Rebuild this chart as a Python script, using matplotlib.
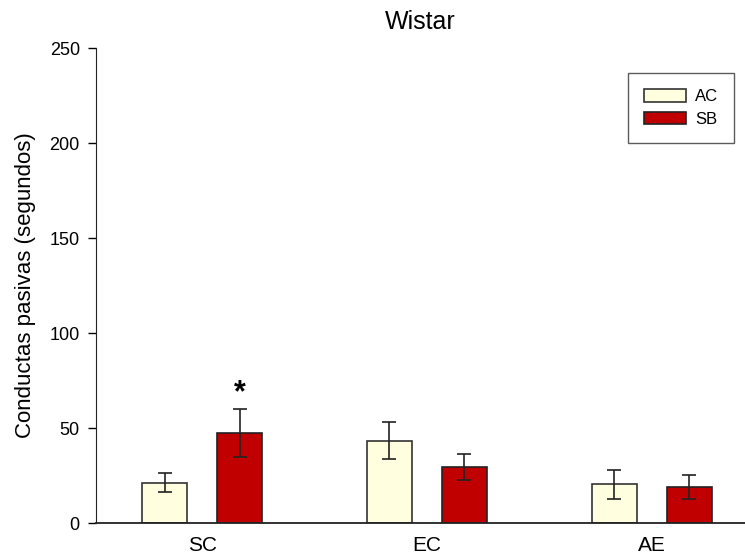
import numpy as np
import matplotlib
matplotlib.use("Agg")
import matplotlib.pyplot as plt

plt.rcParams['font.family'] = ['Liberation Sans', 'DejaVu Sans']

GROUPS = ["SC", "EC", "AE"]
AC_MEAN = [21.2, 43.3, 20.5]
AC_ERR = [5.0, 9.7, 7.6]
SB_MEAN = [47.4, 29.6, 18.8]
SB_ERR = [12.5, 6.9, 6.3]
YTICKS = [0, 50, 100, 150, 200, 250]

fig = plt.figure(figsize=(7.45, 5.57), dpi=100)
ax = fig.add_axes([0.1295, 0.061, 0.8705, 0.8528])

x = np.arange(len(GROUPS))
w = 0.2
off = 0.1667
err_kw = dict(ecolor="#222222", elinewidth=1.2, capsize=5, capthick=1.2)

ax.bar(x - off, AC_MEAN, w, yerr=AC_ERR, color="#FFFFE0", edgecolor="#333333",
       linewidth=1.2, label="AC", error_kw=err_kw, zorder=2)
ax.bar(x + off, SB_MEAN, w, yerr=SB_ERR, color="#C00000", edgecolor="#222222",
       linewidth=1.2, label="SB", error_kw=err_kw, zorder=2)

# significance mark
ax.text(x[0] + off, SB_MEAN[0] + SB_ERR[0] + 8.5, "*", ha="center", va="center",
        fontsize=22, fontweight="bold")

ax.set_xlim(-0.47, 2.415)
ax.set_ylim(0, 250)
ax.set_yticks(YTICKS)
ax.set_xticks(x)
ax.set_xticklabels(GROUPS, fontsize=15)
ax.tick_params(axis="x", length=0, pad=9)
ax.tick_params(axis="y", labelsize=13, length=6, width=1, pad=6, direction="out")

for s in ["top", "right"]:
    ax.spines[s].set_visible(False)
ax.spines["left"].set_color("#222222")
ax.spines["bottom"].set_color("#222222")
ax.spines["bottom"].set_linewidth(1.3)

ax.set_ylabel("Conductas pasivas (segundos)", fontsize=16, labelpad=10)
ax.set_title("Wistar", fontsize=18, pad=14)

leg = ax.legend(loc="upper right", bbox_to_anchor=(0.983, 0.947), borderaxespad=0,
                fontsize=12, frameon=True, fancybox=False, edgecolor="#333333",
                handlelength=2.5, handleheight=0.8, handletextpad=0.55,
                borderpad=0.95, labelspacing=0.45)
leg.get_frame().set_linewidth(1.0)

plt.savefig("out.png", dpi=100)
